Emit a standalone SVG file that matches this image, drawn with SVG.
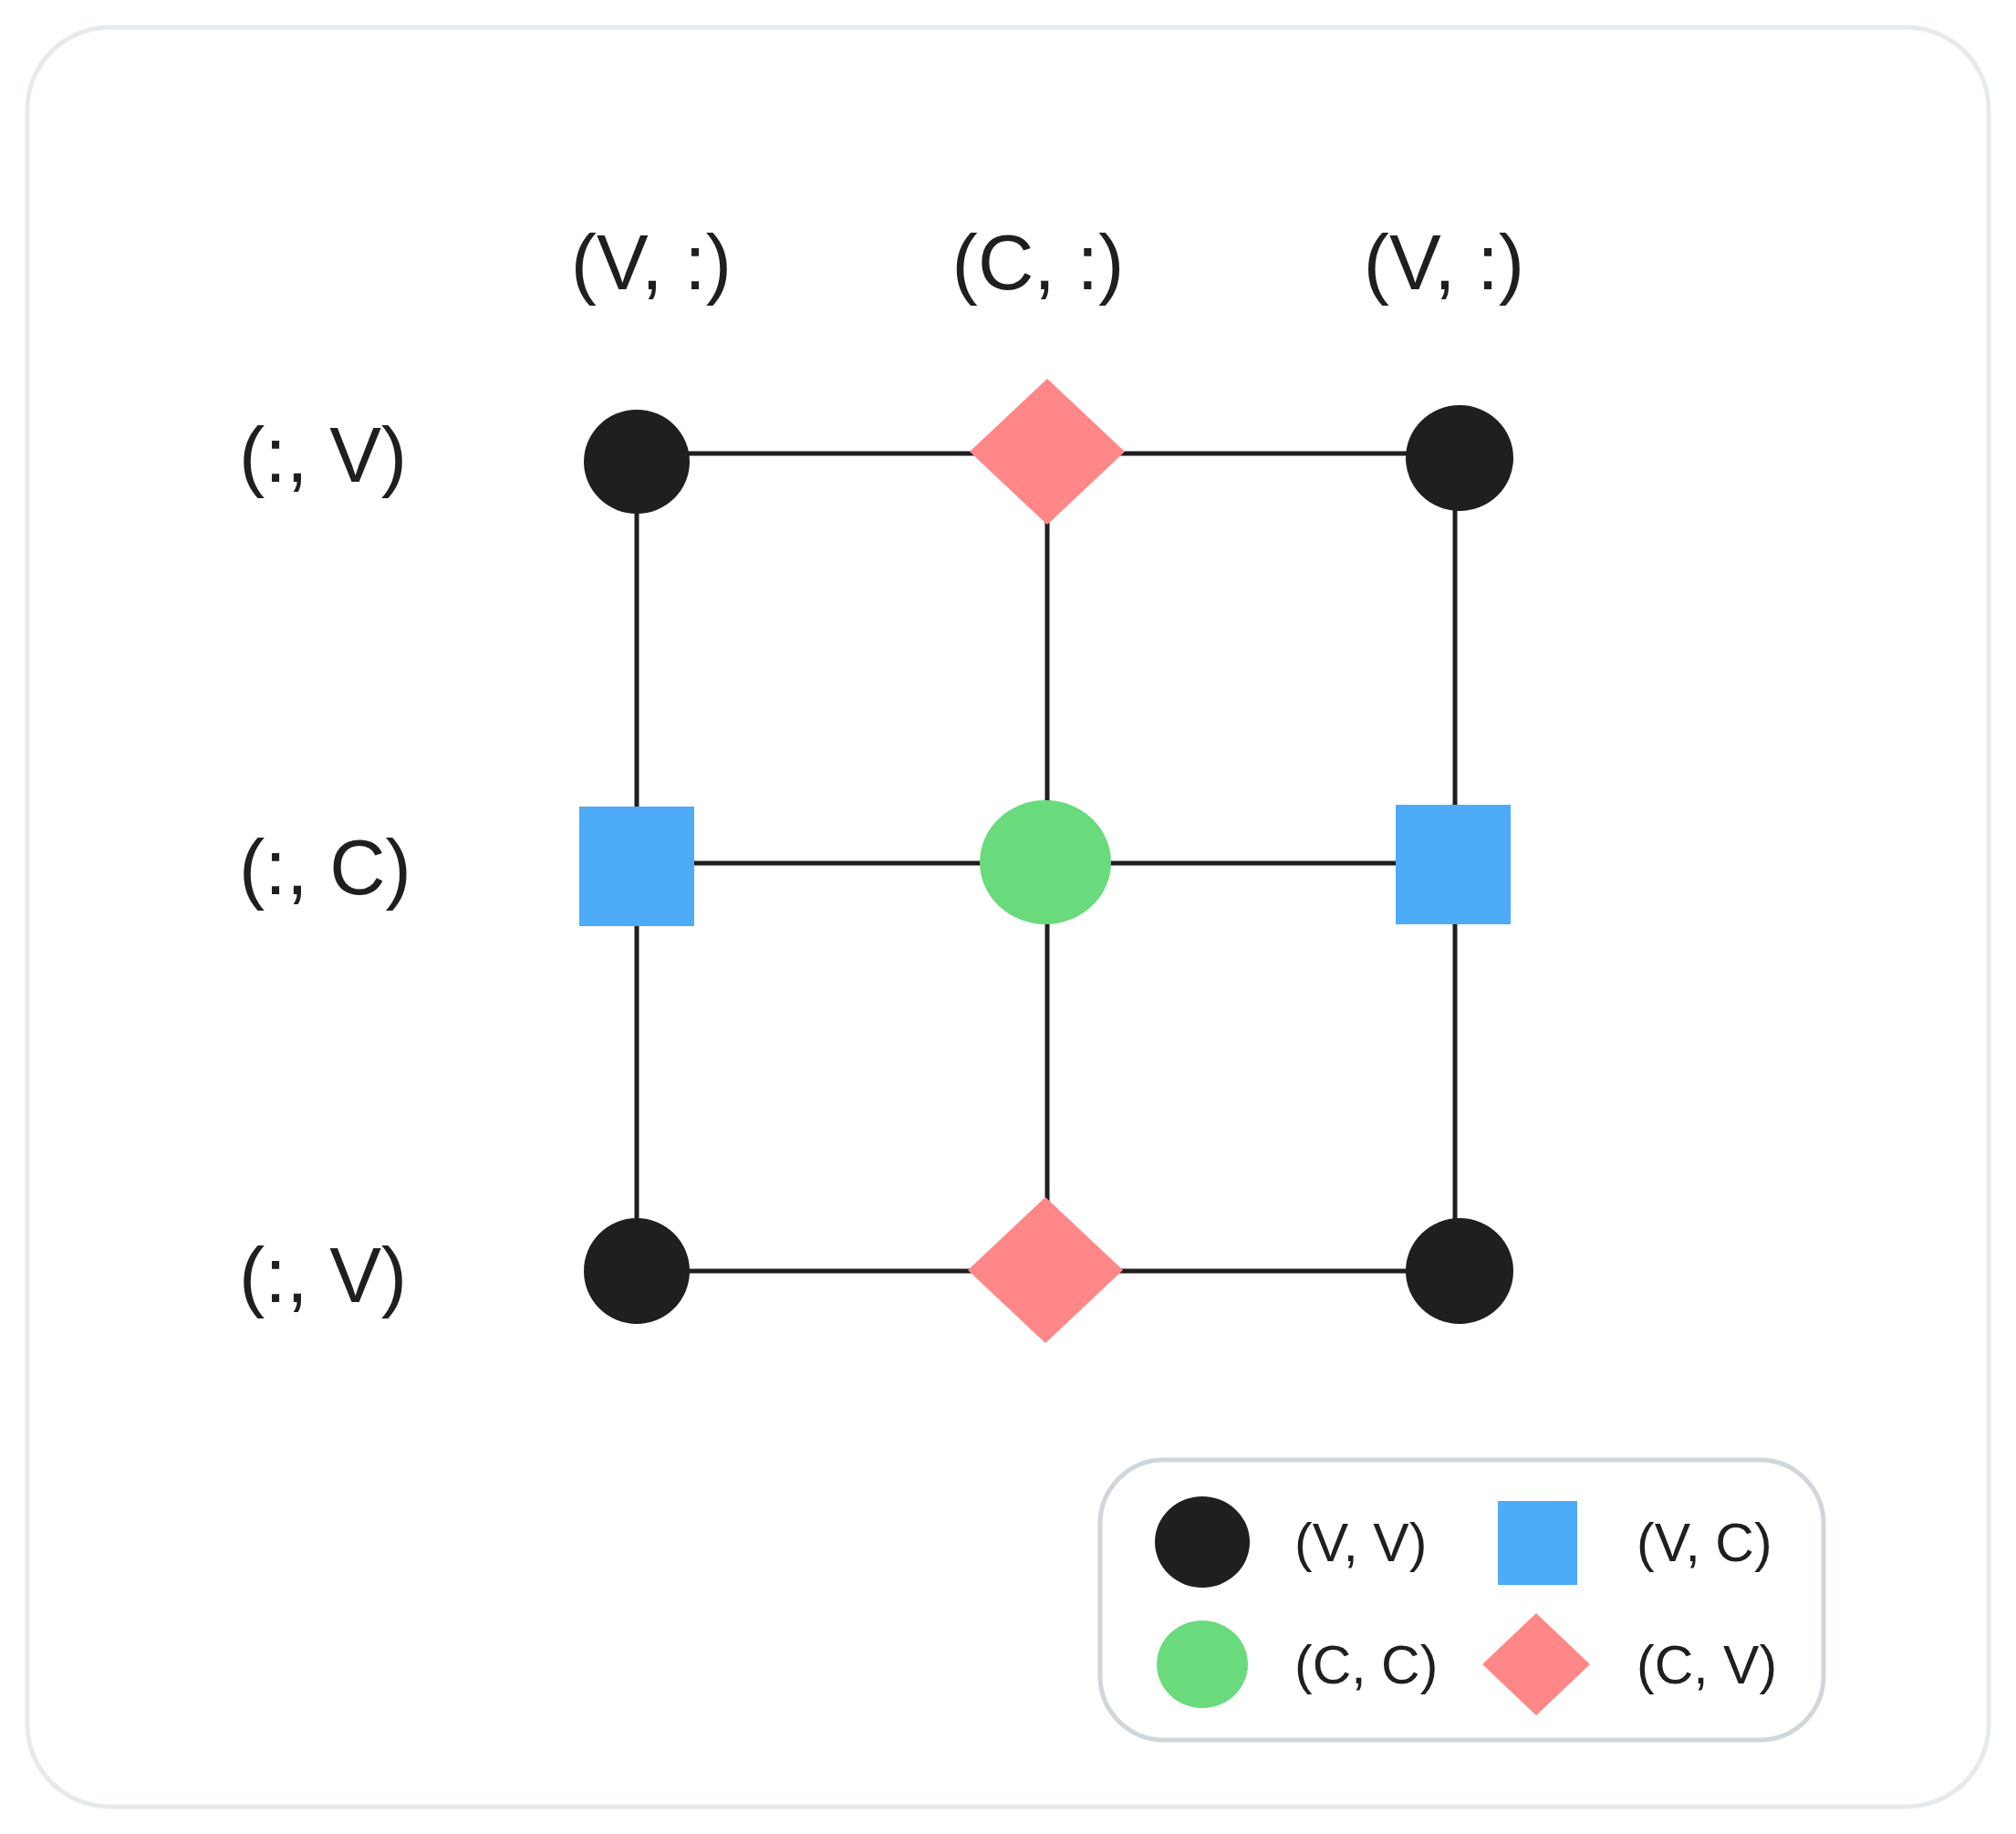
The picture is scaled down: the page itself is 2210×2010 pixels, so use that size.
<svg xmlns="http://www.w3.org/2000/svg" width="2210" height="2010" viewBox="0 0 2210 2010">
<style>
.lbl{font-family:"Liberation Sans",Arial,sans-serif;font-size:85px;fill:#1f1f1f}
.lg{font-family:"Liberation Sans",Arial,sans-serif;font-size:59px;fill:#1f1f1f}
.edge{stroke:#1f1f1f;stroke-width:5;fill:none}
.vv{fill:#1f1f1f}
.vc{fill:#4dabf7}
.cc{fill:#69db7c}
.cv{fill:#ff8787}
</style>
<rect x="0" y="0" width="2210" height="2010" fill="#ffffff"/>
<rect id="frame" x="30" y="30" width="2150" height="1950" rx="90" ry="90" fill="#ffffff" stroke="#e6e9ed" stroke-width="5"/>
<g id="axis-labels">
<text class="lbl" x="714" y="317" text-anchor="middle">(V, :)</text>
<text class="lbl" x="1138" y="317" text-anchor="middle">(C, :)</text>
<text class="lbl" x="1583" y="317" text-anchor="middle">(V, :)</text>
<text class="lbl" x="262" y="528">(:, V)</text>
<text class="lbl" x="262" y="980">(:, C)</text>
<text class="lbl" x="262" y="1427">(:, V)</text>
</g>
<g id="connectors">
<line class="edge" x1="698" y1="497" x2="1600" y2="497"/>
<line class="edge" x1="698" y1="946" x2="1595" y2="946"/>
<line class="edge" x1="698" y1="1393" x2="1600" y2="1393"/>
<line class="edge" x1="698" y1="506" x2="698" y2="1393"/>
<line class="edge" x1="1148" y1="495" x2="1148" y2="1393"/>
<line class="edge" x1="1595" y1="502" x2="1595" y2="1393"/>
</g>
<g id="n-tl"><ellipse class="vv" cx="698" cy="506" rx="58" ry="57"/></g>
<g id="n-tm"><polygon class="cv" points="1148,415 1233,495 1148,575 1063,495"/></g>
<g id="n-tr"><ellipse class="vv" cx="1600" cy="502" rx="59" ry="58"/></g>
<g id="n-ml"><rect class="vc" x="635" y="884" width="126" height="131"/></g>
<g id="n-mm"><ellipse class="cc" cx="1146" cy="945" rx="72" ry="68"/></g>
<g id="n-mr"><rect class="vc" x="1530" y="882" width="126" height="131"/></g>
<g id="n-bl"><ellipse class="vv" cx="698" cy="1393" rx="58" ry="58"/></g>
<g id="n-bm"><polygon class="cv" points="1146,1312 1231,1392 1146,1472 1061,1392"/></g>
<g id="n-br"><ellipse class="vv" cx="1600" cy="1393" rx="59" ry="58"/></g>
<g id="legend">
<rect x="1206" y="1600" width="793" height="307" rx="70" ry="70" fill="#ffffff" stroke="#d1d6dc" stroke-width="5"/>
<ellipse class="vv" cx="1318" cy="1690" rx="52" ry="50"/>
<text class="lg" x="1419" y="1711">(V, V)</text>
<rect class="vc" x="1642" y="1645" width="87" height="92"/>
<text class="lg" x="1794" y="1711">(V, C)</text>
<ellipse class="cc" cx="1318" cy="1824" rx="50" ry="48"/>
<text class="lg" x="1419" y="1845">(C, C)</text>
<polygon class="cv" points="1684,1768 1743,1824 1684,1880 1625,1824"/>
<text class="lg" x="1794" y="1845">(C, V)</text>
</g>
</svg>
